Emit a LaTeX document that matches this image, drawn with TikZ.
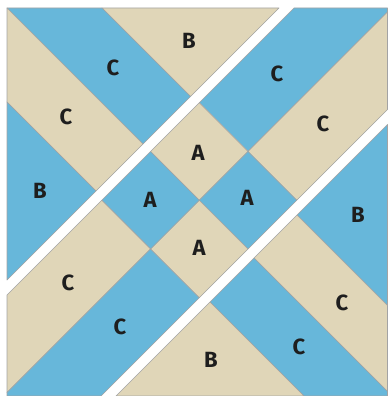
\documentclass[tikz,border=0pt]{standalone}
\usepackage{fontspec}
\setmainfont{Fira Sans}
\usepackage{xcolor}
\usetikzlibrary{positioning}
\definecolor{sky}{HTML}{67B7DA}
\definecolor{sand}{HTML}{E0D6B8}
\definecolor{seam}{HTML}{A3A3A3}
\definecolor{ink}{HTML}{1E1E1E}
\tikzset{
  patch/.style={fill=#1,draw=seam,line width=0.6pt,line join=round},
  lbl/.style={font=\fontsize{22}{22}\selectfont\bfseries,text=ink,inner sep=0pt}
}

\begin{document}
\begin{tikzpicture}[x=1pt,y=-1pt]
  \useasboundingbox (0,0) rectangle (389,396);
  % top-left piece
  \fill[patch=sand] (102,8) -- (279,8) -- (190.5,96.5) -- cycle;
  \fill[patch=sky] (7,8) -- (102,8) -- (190.5,96.5) -- (143,144) -- cycle;
  \fill[patch=sand] (7,8) -- (143,144) -- (96,191) -- (7,102) -- cycle;
  \fill[patch=sky] (7,102) -- (96,191) -- (7,280) -- cycle;
  % middle piece
  \fill[patch=sky] (294,8) -- (387.5,8) -- (387.5,12) -- (248,151.5) -- (199.25,102.75) -- cycle;
  \fill[patch=sand] (387.5,12) -- (387.5,109.5) -- (296.75,200.25) -- (248,151.5) -- cycle;
  \fill[patch=sand] (199.25,102.75) -- (248,151.5) -- (199.25,200.25) -- (150.5,151.5) -- cycle;
  \fill[patch=sky] (248,151.5) -- (296.75,200.25) -- (248,249) -- (199.25,200.25) -- cycle;
  \fill[patch=sand] (199.25,200.25) -- (248,249) -- (199.25,297.75) -- (150.5,249) -- cycle;
  \fill[patch=sky] (150.5,151.5) -- (199.25,200.25) -- (150.5,249) -- (101.75,200.25) -- cycle;
  \fill[patch=sand] (101.75,200.25) -- (150.5,249) -- (7,392.5) -- (7,295) -- cycle;
  \fill[patch=sky] (150.5,249) -- (199.25,297.75) -- (101,396) -- (7,396) -- (7,392.5) -- cycle;
  % bottom-right piece
  \fill[patch=sky] (387.5,124.5) -- (387.5,305.5) -- (297,215) -- cycle;
  \fill[patch=sand] (297,215) -- (387.5,305.5) -- (387.5,391.5) -- (254,258) -- cycle;
  \fill[patch=sky] (254,258) -- (387.5,391.5) -- (387.5,396) -- (304,396) -- (210,302) -- cycle;
  \fill[patch=sand] (210,302) -- (304,396) -- (116,396) -- cycle;
  % labels
  \node[lbl] (bTop) at (189,41) {B};
  \node[lbl] (cTopA) at (113,68) {C};
  \node[lbl] (cTopB) at (66,117) {C};
  \node[lbl] (bLeft) at (40,191) {B};
  \node[lbl] (cRightA) at (277,74) {C};
  \node[lbl] (cRightB) at (323,124) {C};
  \node[lbl] (aTop) at (198,153) {A};
  \node[lbl] (aLeft) at (150,200) {A};
  \node[lbl] (aRight) at (247,198) {A};
  \node[lbl] (aBot) at (199,248) {A};
  \node[lbl] (cLeftA) at (68,283) {C};
  \node[lbl] (cLeftB) at (120,327) {C};
  \node[lbl] (bRight) at (358,215) {B};
  \node[lbl] (cBotA) at (342,303) {C};
  \node[lbl] (cBotB) at (299,347) {C};
  \node[lbl] (bBot) at (211,360) {B};
\end{tikzpicture}
\end{document}
